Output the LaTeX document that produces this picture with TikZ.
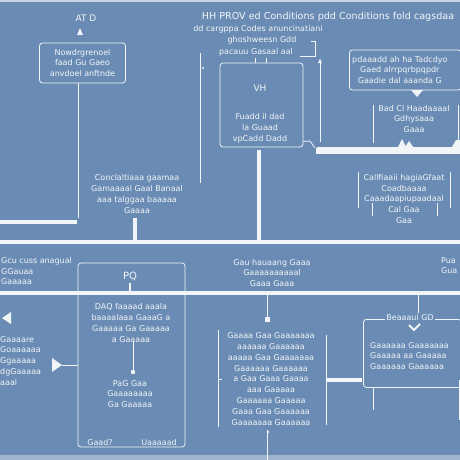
\documentclass[tikz,border=0pt]{standalone}
\usepackage{fontspec}
\setmainfont{DejaVu Sans}
\usetikzlibrary{positioning,arrows.meta,calc}
\definecolor{blueprint}{HTML}{6A8CB4}
\definecolor{chalk}{HTML}{F2F5F8}
\tikzset{
  lbl/.style={text=chalk, font=\fontsize{8}{10.8}\selectfont, inner sep=0pt, align=center},
  panel/.style={draw=chalk, line width=0.8pt, rounded corners=3pt, inner sep=0pt},
  wire/.style={chalk, line width=0.8pt},
  rail/.style={chalk, line width=3.5pt},
}

\begin{document}
\begin{tikzpicture}[x=1pt,y=-1pt]

% sheet
\fill[blueprint] (0,0) rectangle (460,460);
\useasboundingbox (0,0) rectangle (460,460);
\draw[chalk!70!blueprint, line width=1.5pt] (0,1) -- (460,1);
\fill[chalk!40!blueprint] (0,455) rectangle (460,460);

% top left block
\node[lbl, font=\fontsize{9}{10}\selectfont] (atd) at (86,18) {AT D};
\fill[chalk] (77,35) -- (80,28) -- (83,35) -- cycle;
\node[panel, minimum width=86, minimum height=40] (atbox) at (82.5,63) {};
\node[lbl] (attxt) at (atbox.center) {Nowdrgrenoel\\ faad Gu Gaeo\\ anvdoel anftnde};
\coordinate (atend) at (78,218);
\draw[wire] (atbox.south -| atend) -- (atend);
\draw[rail] (0,222) -- (77,222);

% title
\node[lbl, font=\fontsize{9.6}{10}\selectfont] (title) at (328,17) {HH PROV ed Conditions pdd Conditions fold cagsdaa};
\node[lbl] (sub1) at (258,29) {dd cargppa Codes anuncinatiani};
\node[lbl] (sub2) at (262,40) {ghoshweesn Gdd};
\node[lbl] (sub3) at (256,52) {pacauu Gasaal aal};
\draw[wire] (311,41) -- (315,41) -- (315,56) -- (300,56);
\coordinate (lefttop) at (200,53);
\coordinate (leftbot) at (200,183);
\draw[wire] (lefttop) -- (leftbot);
\fill[chalk] (203,68) circle (1.2);

% center box
\node[panel, minimum width=83, minimum height=84] (vhbox) at (261.5,105) {};
\node[lbl, font=\fontsize{9}{10}\selectfont] (vh) at (260,88) {VH};
\node[lbl] (vhtxt) at (260,128) {Fuadd il dad\\ la Guaad\\ vpCadd Dadd};
\draw[wire] (255,63) -- (255,58) (266,63) -- (266,58);
\draw[wire] (vhbox.south east) ++(0,-6) -- (310,141) -- (315,148);
\draw[rail] (259,150) -- (259,242);

% arrow up
\coordinate (arrtop) at (320,58);
\draw[wire, -{Latex[length=5pt,width=4pt]}] (320,142) -- (arrtop);

% top right block
\node[panel, minimum width=112, minimum height=40, anchor=west] (rbox) at (349,70) {};
\node[lbl, anchor=west] (rtxt) at (352,70) {pdaaadd ah ha Tadcdyo\\ Gaed alrrpqrbpqpdr\\ Gaadie dal aaanda G};
\fill[chalk] (411,90) -- (417,97) -- (423,90) -- cycle;
\node[lbl] (badtxt) at (414,119) {Bad Cl Haadaaaal\\ Gdhysaaa\\ Gaaa};
\draw[wire] (373,105) -- (373,143) (458,105) -- (458,143);
\fill[chalk] (317,147) rectangle (460,154);
\draw[wire, line width=1.5pt] (317,148) -- (317,154);
\fill[chalk] (398,147) -- (402,139) -- (406,147) -- cycle;
\fill[chalk] (405,147) -- (409,141) -- (413,147) -- cycle;
\fill[chalk] (452,147) -- (456,140) -- (460,140) -- (460,147) -- cycle;

% middle right block
\node[lbl] (midr) at (404,199) {Callfiaaii hagiaGfaat\\ Coadbaaaa\\ Caaadaapiupaadaal\\ Cal Gaa\\ Gaa};
\draw[wire] (358,172) -- (358,208) (450,172) -- (450,208);
\draw[wire] (372,203) -- (372,216) (437,203) -- (437,216);

% middle left block
\node[lbl] (midl) at (137,194) {Conclaltiaaa gaamaa\\ Gamaaaal Gaal Banaal\\ aaa talggaa baaaaa\\ Gaaaa};
\draw[rail] (135,218) -- (135,242);

% rails across
\draw[rail] (0,242) -- (460,242);
\draw[rail] (0,293) -- (460,293);

% band texts
\node[lbl, anchor=north west, align=left] (bandl) at (1,257) {Gcu cuss anagual\\ GGauaa\\ Gaaaaa};
\node[lbl] (bandc) at (272,273) {Gau hauaang Gaaa\\ Gaaaaaaaaaal\\ Gaaa Gaaa};
\node[lbl, anchor=north west, align=left] (bandr) at (441,257) {Pua\\ Gua};

% tall box
\node[panel, minimum width=107, minimum height=184] (pqbox) at (131.5,355) {};
\node[lbl, font=\fontsize{10}{11}\selectfont] (pq) at (130,276) {PQ};
\draw[chalk, line width=2.5pt] (130,283) -- (130,292);
\node[lbl] (pqtop) at (131,323) {DAQ faaaad aaala\\ baaaalaaa GaaaG a\\ Gaaaaa Ga Gaaaaa\\ a Gaaaaa};
\node[lbl] (pqmid) at (130,394) {PaG Gaa\\ Gaaaaaaaa\\ Ga Gaaaaa};
\coordinate (pqdot) at (133,372);
\draw[wire] (133,341) -- (pqdot);
\fill[chalk] (pqdot) circle (2.2);
\node[lbl] (pqbl) at (100,443) {Gaad?};
\node[lbl] (pqbr) at (159,443) {Uaaaaad};

% lower left
\fill[chalk] (2,318) -- (11,312) -- (11,324) -- cycle;
\node[lbl, anchor=north west, align=left] (lowl) at (0,336) {Gaaaare\\ Goaaaaaa\\ Ggaaaaa\\ dgGaaaaa\\ aaal};
\fill[chalk] (52,358) -- (62,365) -- (52,372) -- cycle;
\draw[wire] (62,365) -- (pqbox.west |- 0,365);

% lower center block
\coordinate (sqr) at (267,319);
\draw[wire] (267,295) -- (sqr);
\fill[chalk] ($(sqr)+(-2.5,-2.5)$) rectangle ($(sqr)+(2.5,2.5)$);
\node[lbl] (lowc) at (271,379) {Gaaaa Gaa Gaaaaaaa\\ aaaaaa Gaaaaaa\\ aaaaa Gaa Gaaaaaaa\\ Gaaaaaa Gaaaaaa\\ a Gaa Gaaa Gaaaa\\ aaa Gaaaaa\\ Gaaaaaa Gaaaaa\\ Gaaa Gaa Gaaaaaa\\ Gaaaaaaa Gaaaaaa};
\draw[wire] (218,330) -- (218,427) (326,335) -- (326,425);
\draw[wire] (218,379) -- (222,379);
\draw[rail] (326,380) -- (362,380);
\draw[wire] (267,430) -- (267,460);
\fill[chalk] (268,432) circle (1.3);

% lower right box
\node[panel, minimum width=98, minimum height=68, anchor=north west] (gdbox) at (363,319) {};
\node[lbl, fill=blueprint, inner sep=1.5pt] (gd) at (410,318) {Beaaaui GD};
\draw[wire] (418,295) -- (gd.north -| 418,0);
\draw[chalk, line width=2pt] (409,325) -- (414,330) -- (420,324);
\node[lbl, anchor=north west, align=left] (gdtxt) at (370,342) {Gaaaaaa Gaaaaaaa\\ Gaaaaa aa Gaaaaa\\ Gaaaaaa Gaaaaaa};
\draw[wire] (373,387) -- (373,410) (459,380) -- (459,420);

\end{tikzpicture}
\end{document}
